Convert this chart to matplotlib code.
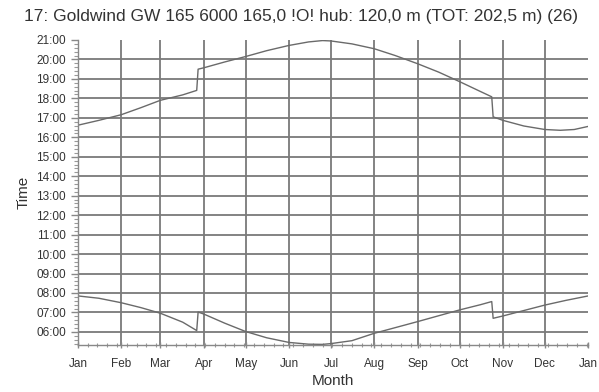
import matplotlib
matplotlib.use('Agg')
import matplotlib.pyplot as plt
from matplotlib.ticker import FixedLocator, MultipleLocator, FuncFormatter

plt.rcParams['font.family'] = ['Liberation Sans', 'DejaVu Sans']

title = "17: Goldwind GW 165 6000 165,0 !O! hub: 120,0 m (TOT: 202,5 m) (26)"

# month starts (day of year) and labels, last one is next Jan
month_days = [0, 31, 59, 90, 120, 151, 181, 212, 243, 273, 304, 334, 365]
month_labels = ['Jan', 'Feb', 'Mar', 'Apr', 'May', 'Jun', 'Jul',
                'Aug', 'Sep', 'Oct', 'Nov', 'Dec', 'Jan']

# sunset (upper curve), hours
sunset_days = [0, 15, 31, 45, 59, 75, 85, 86, 90, 105, 120, 135, 151, 165,
               175, 181, 196, 212, 227, 243, 258, 273, 288, 296, 297, 304,
               319, 334, 345, 355, 365]
sunset_hours = [16.62, 16.87, 17.16, 17.52, 17.90, 18.18, 18.41, 19.50, 19.57,
                19.87, 20.15, 20.45, 20.72, 20.90, 20.97, 20.95, 20.80, 20.55,
                20.20, 19.78, 19.35, 18.86, 18.35, 18.08, 17.05, 16.87, 16.58,
                16.40, 16.36, 16.40, 16.56]

# sunrise (lower curve), hours
sunrise_days = [0, 15, 31, 45, 59, 75, 85, 86, 90, 105, 120, 135, 151, 165,
                175, 181, 196, 212, 227, 243, 258, 273, 288, 296, 297, 304,
                319, 334, 349, 365]
sunrise_hours = [7.85, 7.73, 7.50, 7.25, 6.96, 6.50, 6.07, 7.02, 6.92, 6.45,
                 6.02, 5.70, 5.46, 5.37, 5.36, 5.40, 5.55, 5.93, 6.22, 6.53,
                 6.83, 7.13, 7.40, 7.56, 6.70, 6.82, 7.10, 7.38, 7.62, 7.85]

hour_ticks = list(range(6, 22))

fig = plt.figure(figsize=(5.99, 3.92), dpi=100)
ax = fig.add_axes([0.130, 0.120, 0.852, 0.778])

grid_col = '#7a7a7a'
line_col = '#6a6a6a'
text_col = '#333333'

# grid
for h in hour_ticks[:-1]:
    ax.axhline(h, color=grid_col, lw=1.3, zorder=1)
for d in month_days[1:-1]:
    ax.axvline(d, color=grid_col, lw=1.3, zorder=1)

ax.plot(sunset_days, sunset_hours, color=line_col, lw=1.0, zorder=2)
ax.plot(sunrise_days, sunrise_hours, color=line_col, lw=1.0, zorder=2)

ax.set_xlim(0, 365)
ax.set_ylim(5.33, 21.0)

for s in ['top', 'right']:
    ax.spines[s].set_visible(False)
for s in ['left', 'bottom']:
    ax.spines[s].set_color('#888888')
    ax.spines[s].set_linewidth(1.0)

ax.xaxis.set_major_locator(FixedLocator(month_days))
ax.set_xticklabels(month_labels)
ax.xaxis.set_minor_locator(MultipleLocator(7))
ax.yaxis.set_major_locator(FixedLocator(hour_ticks))
ax.yaxis.set_major_formatter(FuncFormatter(lambda v, p: '%02d:00' % int(round(v))))
ax.yaxis.set_minor_locator(MultipleLocator(0.2))

ax.tick_params(axis='both', which='major', colors='#888888', labelcolor=text_col,
               length=5, width=1.0)
ax.tick_params(axis='y', which='major', labelsize=8.5)
ax.tick_params(axis='x', which='major', labelsize=8.5)
ax.tick_params(axis='both', which='minor', colors='#999999', length=3, width=0.8)
ax.tick_params(axis='x', which='both', direction='inout', pad=7)

ax.set_xlabel('Month', fontsize=11, color=text_col, labelpad=3)
ax.set_ylabel('Time', fontsize=11, color=text_col, labelpad=4)
fig.text(0.503, 0.957, title, ha='center', va='center', fontsize=12.5, color=text_col)

fig.savefig('out.png', dpi=100)
